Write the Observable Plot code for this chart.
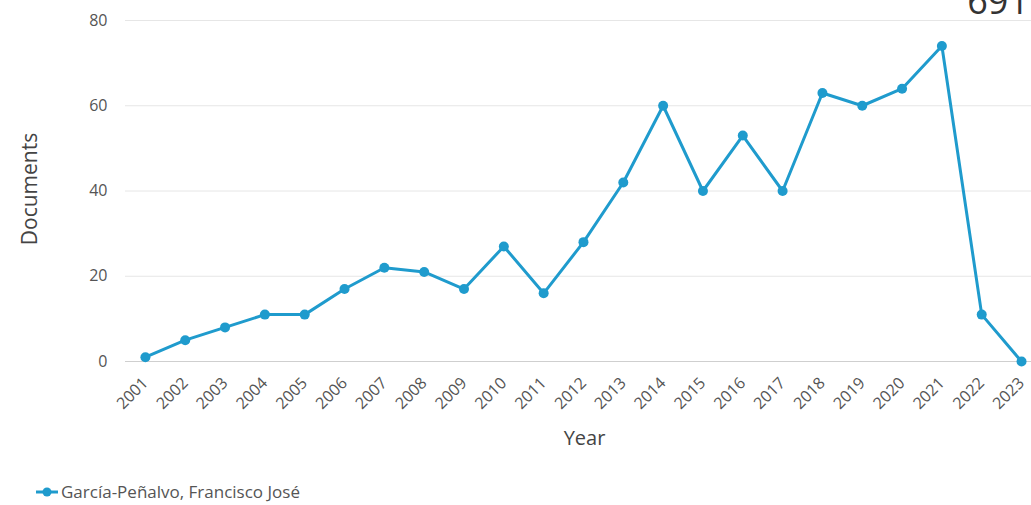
<!DOCTYPE html>
<html>
<head>
<meta charset="utf-8">
<script src="https://cdn.jsdelivr.net/npm/d3@7"></script>
<script src="https://cdn.jsdelivr.net/npm/@observablehq/plot@0.6"></script>
<style>
  html, body { margin: 0; padding: 0; background: #fff; overflow: hidden; }
  body { width: 1031px; height: 505px; position: relative; font-family: "Open Sans", sans-serif; }
  #total { position: absolute; right: 2px; top: -24px; font-size: 36px; color: #333; font-family: "Open Sans", sans-serif; }
  #chart { position: absolute; left: 0; top: 0; }
  #legend { position: absolute; left: 35px; top: 480px; display: flex; align-items: center; font-size: 17px; color: #555; }
  #legend svg { margin-right: 2px; }
</style>
</head>
<body>
<div id="chart"></div>
<div id="total">691</div>
<div id="legend"></div>
<script>
const years = [2001,2002,2003,2004,2005,2006,2007,2008,2009,2010,2011,2012,2013,2014,2015,2016,2017,2018,2019,2020,2021,2022,2023];
const documents = [1,5,8,11,11,17,22,21,17,27,16,28,42,60,40,53,40,63,60,64,74,11,0];
const yTicks = [0,20,40,60,80];
const seriesName = "García-Peñalvo, Francisco José";
const color = "#1f9bcd";

const data = years.map((y, i) => ({year: y, value: documents[i]}));

const chart = Plot.plot({
  width: 1031,
  height: 470,
  marginLeft: 125,
  marginRight: 0,
  marginTop: 20,
  marginBottom: 109,
  style: {fontFamily: "'Open Sans', sans-serif", fontSize: "16px", color: "#555", background: "transparent"},
  x: {domain: [2000.5, 2023.25]},
  y: {domain: [0, 80]},
  marks: [
    Plot.ruleY(yTicks.filter(d => d > 0), {stroke: "#e6e6e6", strokeWidth: 1}),
    Plot.ruleY([0], {stroke: "#cfcfcf", strokeWidth: 1.2}),
    Plot.axisY({ticks: yTicks, tickSize: 0, tickPadding: 18, label: null, fontSize: 16, fill: "#555"}),
    Plot.text(["Documents"], {frameAnchor: "left", textAnchor: "middle", dx: -95, dy: -2, rotate: -90, fontSize: 21, fill: "#444"}),
    Plot.axisX({ticks: years, tickFormat: d => String(d), tickSize: 0, tickRotate: -45, tickPadding: 19, label: null, fontSize: 16, fill: "#555"}),
    Plot.text(["Year"], {frameAnchor: "bottom", dx: 6, dy: 83, fontSize: 20, fill: "#444"}),
    Plot.line(data, {x: "year", y: "value", stroke: color, strokeWidth: 3}),
    Plot.dot(data, {x: "year", y: "value", fill: color, r: 5})
  ]
});
document.getElementById("chart").appendChild(chart);

const legend = document.getElementById("legend");
legend.innerHTML = `<svg width="24" height="12"><line x1="1" y1="6" x2="23" y2="6" stroke="${color}" stroke-width="3"/><circle cx="12" cy="6" r="4.5" fill="${color}"/></svg><span></span>`;
legend.querySelector("span").textContent = seriesName;
</script>
</body>
</html>
